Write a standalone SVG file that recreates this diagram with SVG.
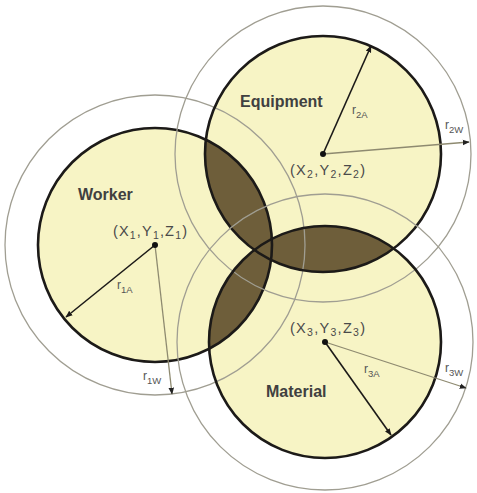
<svg xmlns="http://www.w3.org/2000/svg" width="477" height="493" viewBox="0 0 477 493">
<style>
.fill{fill:#f7f4c5;stroke:none}
.dark{fill:#6e5e3a;stroke:none}
.outer{fill:none;stroke:#a09e92;stroke-width:1.3}
.inner{fill:none;stroke:#1c1a18;stroke-width:2.6}
.rA{stroke:#1c1a18;stroke-width:1.6;fill:none}
.rW{stroke:#8e8a70;stroke-width:1.3;fill:none}
.dot{fill:#111}
.name{font-family:"Liberation Sans",Arial,sans-serif;font-weight:bold;font-size:16px;fill:#404040}
.coord{font-family:"Liberation Sans",Arial,sans-serif;font-size:14.5px;fill:#4a4a4a}
.rl{font-family:"Liberation Sans",Arial,sans-serif;font-size:12px;fill:#555}
.sub{font-size:9.5px}
.csub{font-size:10.5px}
</style>
<defs>
<clipPath id="cW"><circle cx="155" cy="245" r="117"/></clipPath>
<clipPath id="cE"><circle cx="323" cy="154" r="118"/></clipPath>
<marker id="ah" viewBox="0 0 10 10" refX="9" refY="5" markerWidth="7" markerHeight="7" markerUnits="userSpaceOnUse" orient="auto"><path d="M0,1 L10,5 L0,9 z" fill="#1c1a18"/></marker>
<marker id="ahw" viewBox="0 0 10 10" refX="9" refY="5" markerWidth="7" markerHeight="7" markerUnits="userSpaceOnUse" orient="auto"><path d="M0,1 L10,5 L0,9 z" fill="#222"/></marker>
</defs>

<!-- fills -->
<g id="fills">
<circle class="fill" cx="155" cy="245" r="117"/>
<circle class="fill" cx="323" cy="154" r="118"/>
<circle class="fill" cx="325" cy="342" r="116"/>
</g>
<g id="overlaps">
<circle class="dark" cx="323" cy="154" r="118" clip-path="url(#cW)"/>
<circle class="dark" cx="325" cy="342" r="116" clip-path="url(#cW)"/>
<circle class="dark" cx="325" cy="342" r="116" clip-path="url(#cE)"/>
</g>

<g id="node-worker">
<circle class="outer" cx="155" cy="245" r="150"/>
<circle class="inner" cx="155" cy="245" r="117"/>
<text class="name" x="78" y="200">Worker</text>
<text class="coord" x="113" y="236" textLength="74" lengthAdjust="spacing">(X<tspan class="csub" dy="3">1</tspan><tspan dy="-3">,Y</tspan><tspan class="csub" dy="3">1</tspan><tspan dy="-3">,Z</tspan><tspan class="csub" dy="3">1</tspan><tspan dy="-3">)</tspan></text>
</g>

<g id="node-equipment">
<circle class="outer" cx="323" cy="154" r="148"/>
<circle class="inner" cx="323" cy="154" r="118"/>
<text class="name" x="240" y="107">Equipment</text>
<text class="coord" x="290" y="175" textLength="75" lengthAdjust="spacing">(X<tspan class="csub" dy="3">2</tspan><tspan dy="-3">,Y</tspan><tspan class="csub" dy="3">2</tspan><tspan dy="-3">,Z</tspan><tspan class="csub" dy="3">2</tspan><tspan dy="-3">)</tspan></text>
</g>

<g id="node-material">
<circle class="outer" cx="325" cy="342" r="148"/>
<circle class="inner" cx="325" cy="342" r="116"/>
<text class="name" x="266" y="397">Material</text>
<text class="coord" x="290" y="333" textLength="75" lengthAdjust="spacing">(X<tspan class="csub" dy="3">3</tspan><tspan dy="-3">,Y</tspan><tspan class="csub" dy="3">3</tspan><tspan dy="-3">,Z</tspan><tspan class="csub" dy="3">3</tspan><tspan dy="-3">)</tspan></text>
</g>

<g id="connectors">
<line class="rW" x1="155" y1="245" x2="172" y2="394" marker-end="url(#ahw)"/>
<line class="rA" x1="155" y1="245" x2="66" y2="317" marker-end="url(#ah)"/>
<line class="rW" x1="323" y1="154" x2="469" y2="142" marker-end="url(#ahw)"/>
<line class="rA" x1="323" y1="154" x2="371" y2="46" marker-end="url(#ah)"/>
<line class="rW" x1="325" y1="342" x2="466" y2="388" marker-end="url(#ahw)"/>
<line class="rA" x1="325" y1="342" x2="391" y2="435" marker-end="url(#ah)"/>
<circle class="dot" cx="155" cy="245" r="3"/>
<circle class="dot" cx="323" cy="154" r="3"/>
<circle class="dot" cx="325" cy="342" r="3"/>
<text class="rl" x="117" y="289">r<tspan class="sub" dy="4">1A</tspan></text>
<text class="rl" x="143" y="380">r<tspan class="sub" dy="4">1W</tspan></text>
<text class="rl" x="352" y="114">r<tspan class="sub" dy="4">2A</tspan></text>
<text class="rl" x="445" y="129">r<tspan class="sub" dy="4">2W</tspan></text>
<text class="rl" x="364" y="373">r<tspan class="sub" dy="4">3A</tspan></text>
<text class="rl" x="445" y="372">r<tspan class="sub" dy="4">3W</tspan></text>
</g>
</svg>
